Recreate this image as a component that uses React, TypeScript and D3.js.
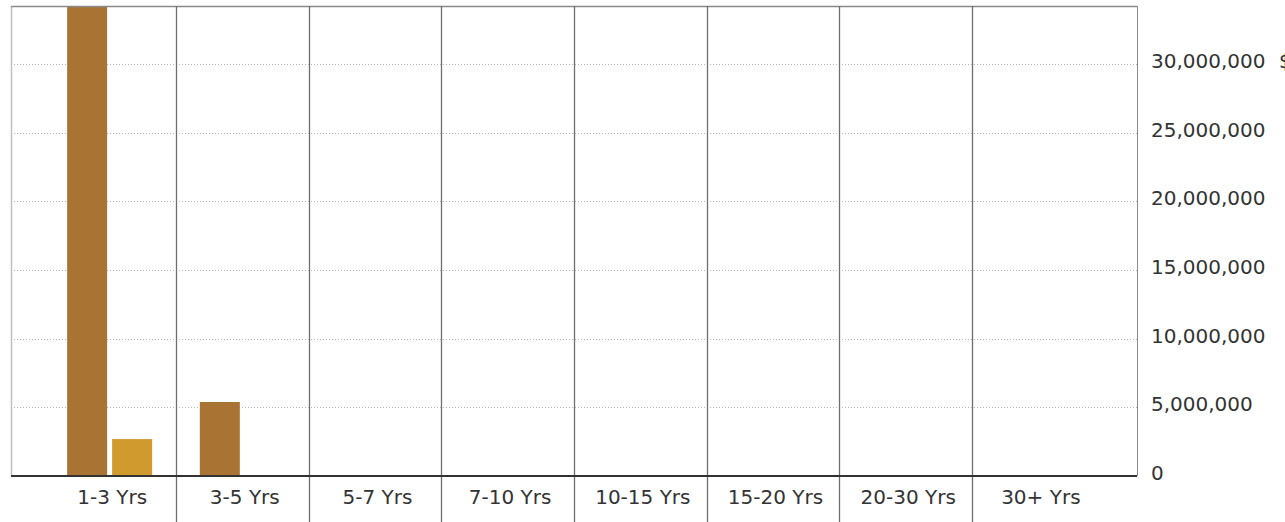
import React from "react";
import * as d3 from "d3";

const categories = ["1-3 Yrs", "3-5 Yrs", "5-7 Yrs", "7-10 Yrs", "10-15 Yrs", "15-20 Yrs", "20-30 Yrs", "30+ Yrs"];
const seriesA = [34230000, 5390000, 0, 0, 0, 0, 0, 0];
const seriesB = [2690000, 0, 0, 0, 0, 0, 0, 0];
const yTicks = [0, 5000000, 10000000, 15000000, 20000000, 25000000, 30000000];
const colors = ["#A97433", "#D09A2E"];

const W = 1285;
const H = 522;
const plotL = 11;
const plotR = 1137;
const plotT = 6;
const plotB = 476;
const pad = 32.3;

export default function App() {
  const x = d3.scaleBand<string>().domain(categories).range([plotL + pad, plotR - pad]).padding(0);
  const y = d3.scaleLinear().domain([0, 34230000]).range([plotB, plotT]);
  const fmt = d3.format(",");
  const barW = 40;
  const gap = 5;
  const series = [seriesA, seriesB];
  const font = "'DejaVu Sans', Verdana, sans-serif";

  return (
    <svg width={W} height={H} style={{ position: "absolute", left: 0, top: 0, background: "#fff" }}>
      {yTicks.filter((t) => t > 0).map((t) => (
        <line key={t} x1={plotL} x2={plotR} y1={Math.round(y(t)) + 0.5} y2={Math.round(y(t)) + 0.5}
          stroke="#b5b5b5" strokeWidth={1} strokeDasharray="1,2" />
      ))}
      {series.map((s, si) =>
        categories.map((c, ci) => {
          const v = s[ci];
          if (!v) return null;
          const cx = (x(c) as number) + x.bandwidth() / 2;
          const gx = cx - (barW * 2 + gap) / 2 + si * (barW + gap);
          return <rect key={si + "-" + c} x={gx} y={y(v)} width={barW} height={plotB - y(v)} fill={colors[si]} />;
        })
      )}
      <line x1={plotL + 0.5} x2={plotL + 0.5} y1={plotT} y2={plotB} stroke="#c0c0c0" strokeWidth={1.5} />
      <line x1={plotL} x2={plotR} y1={plotT + 0.5} y2={plotT + 0.5} stroke="#8a8a8a" strokeWidth={1.5} />
      <line x1={plotR + 0.5} x2={plotR + 0.5} y1={plotT} y2={plotB} stroke="#8a8a8a" strokeWidth={1} />
      {categories.slice(1).map((c) => (
        <line key={c} x1={Math.round(x(c) as number) + 0.5} x2={Math.round(x(c) as number) + 0.5} y1={plotT} y2={H}
          stroke="#6e6e6e" strokeWidth={1.3} />
      ))}
      <line x1={plotL} x2={plotR} y1={plotB} y2={plotB} stroke="#333" strokeWidth={2} />
      {categories.map((c) => (
        <text key={c} x={(x(c) as number) + x.bandwidth() / 2 + 2.5} y={504} textAnchor="middle"
          fontFamily={font} fontSize={20} fill="#333">{c}</text>
      ))}
      {yTicks.map((t) => (
        <text key={t} x={1151} y={y(t) + 4} fontFamily={font} fontSize={20} fill="#333">{fmt(t)}</text>
      ))}
      <text x={1279} y={y(30000000) + 4} fontFamily={font} fontSize={20} fill="#333">$</text>
    </svg>
  );
}
